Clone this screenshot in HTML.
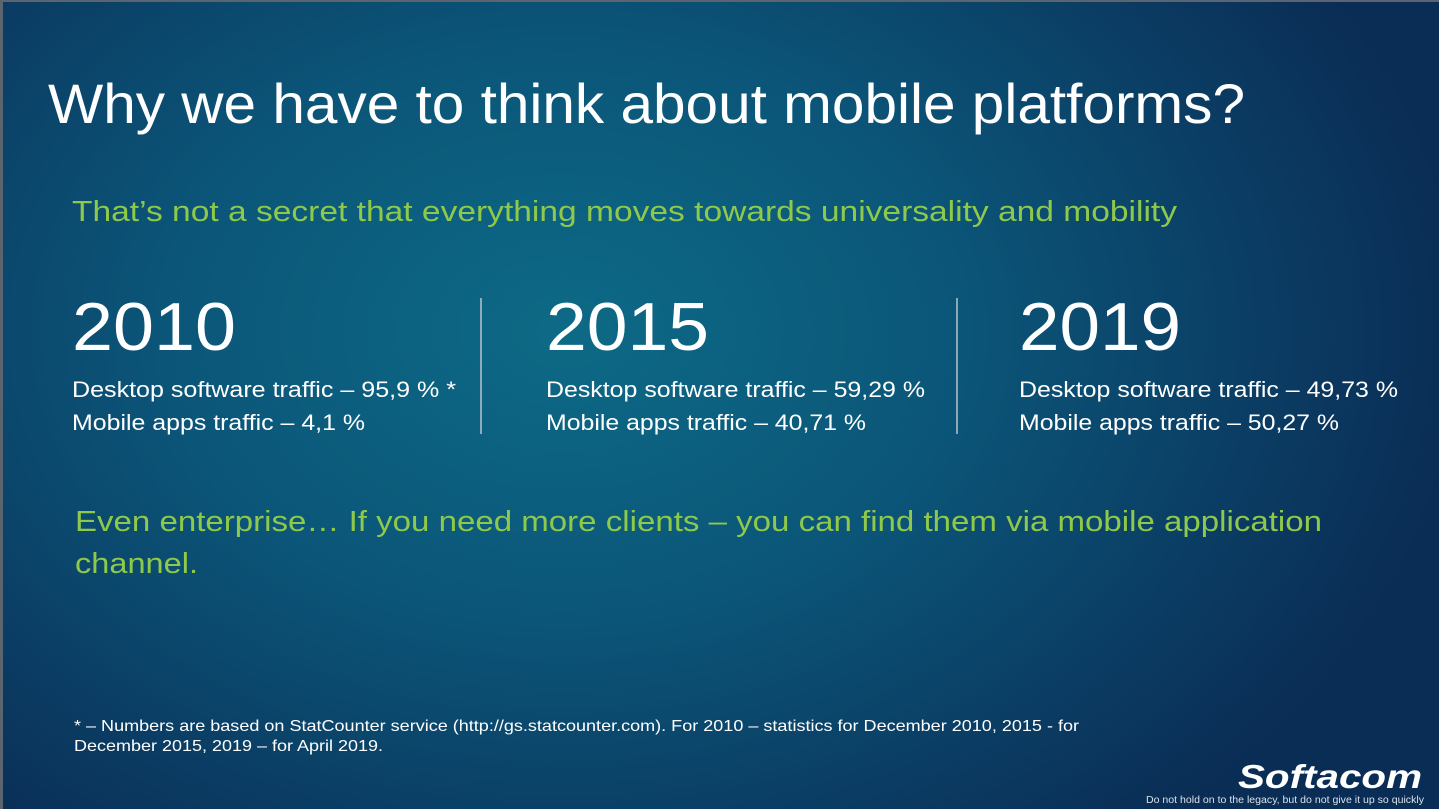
<!DOCTYPE html>
<html><head><meta charset="utf-8"><style>
html,body{margin:0;padding:0;width:1439px;height:809px;overflow:hidden;background:#5a6570}
#slide{position:absolute;left:3px;top:2px;width:1436px;height:807px;background:radial-gradient(ellipse 900px 650px at 560px 330px,#0d6a86 0%,#0b5578 45%,#0b3b62 80%,#0a2d55 100%)}
svg{position:absolute;left:0;top:0}
text{font-family:"Liberation Sans",sans-serif}
</style></head><body>
<div id="slide"></div>
<svg width="1439" height="809">
<text x="48" y="123" font-size="56" fill="#fff" textLength="1197" lengthAdjust="spacingAndGlyphs">Why we have to think about mobile platforms?</text>
<text x="72" y="221" font-size="29" fill="#8fc94a" textLength="1105" lengthAdjust="spacingAndGlyphs">That’s not a secret that everything moves towards universality and mobility</text>
<g>
<text x="72" y="350" font-size="68" fill="#fff" textLength="164" lengthAdjust="spacingAndGlyphs">2010</text>
<text x="72" y="397" font-size="22" fill="#fff" textLength="384" lengthAdjust="spacingAndGlyphs">Desktop software traffic – 95,9 % *</text>
<text x="72" y="430" font-size="22" fill="#fff" textLength="293" lengthAdjust="spacingAndGlyphs">Mobile apps traffic – 4,1 %</text>
</g>
<line x1="481" y1="298" x2="481" y2="434" stroke="#b8c4cc" stroke-width="1.5"/>
<g>
<text x="546" y="350" font-size="68" fill="#fff" textLength="163" lengthAdjust="spacingAndGlyphs">2015</text>
<text x="546" y="397" font-size="22" fill="#fff" textLength="379" lengthAdjust="spacingAndGlyphs">Desktop software traffic – 59,29 %</text>
<text x="546" y="430" font-size="22" fill="#fff" textLength="320" lengthAdjust="spacingAndGlyphs">Mobile apps traffic – 40,71 %</text>
</g>
<line x1="957" y1="298" x2="957" y2="434" stroke="#b8c4cc" stroke-width="1.5"/>
<g>
<text x="1019" y="350" font-size="68" fill="#fff" textLength="162" lengthAdjust="spacingAndGlyphs">2019</text>
<text x="1019" y="397" font-size="22" fill="#fff" textLength="379" lengthAdjust="spacingAndGlyphs">Desktop software traffic – 49,73 %</text>
<text x="1019" y="430" font-size="22" fill="#fff" textLength="320" lengthAdjust="spacingAndGlyphs">Mobile apps traffic – 50,27 %</text>
</g>
<text x="75" y="531" font-size="29" fill="#8fc94a" textLength="1247" lengthAdjust="spacingAndGlyphs">Even enterprise… If you need more clients – you can find them via mobile application</text>
<text x="75" y="573" font-size="29" fill="#8fc94a" textLength="123" lengthAdjust="spacingAndGlyphs">channel.</text>
<text x="74" y="731" font-size="16" fill="#fff" textLength="1005" lengthAdjust="spacingAndGlyphs">* – Numbers are based on StatCounter service (http://gs.statcounter.com). For 2010 – statistics for December 2010, 2015 - for</text>
<text x="74" y="751" font-size="16" fill="#fff" textLength="309" lengthAdjust="spacingAndGlyphs">December 2015, 2019 – for April 2019.</text>
<text x="1238" y="788" font-size="33" font-weight="bold" font-style="italic" fill="#fff" textLength="184" lengthAdjust="spacingAndGlyphs">Softacom</text>
<text x="1146" y="803" font-size="10" fill="#d8e2ea" textLength="278" lengthAdjust="spacingAndGlyphs">Do not hold on to the legacy, but do not give it up so quickly</text>
</svg>
</body></html>
